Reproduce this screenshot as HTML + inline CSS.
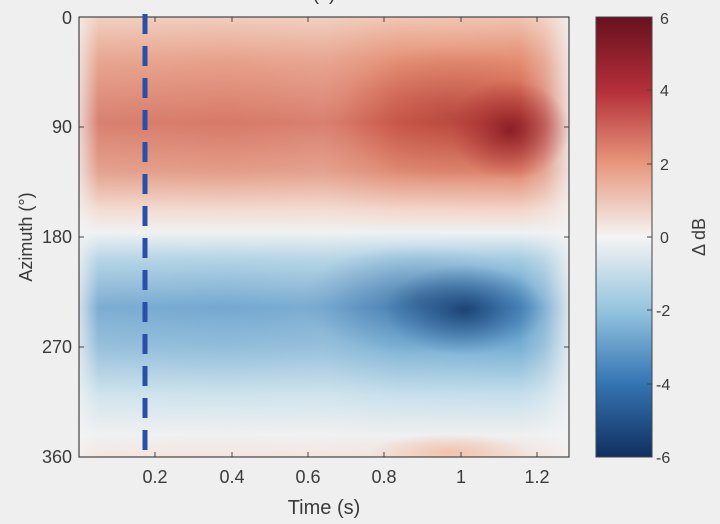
<!DOCTYPE html>
<html><head><meta charset="utf-8"><style>
body{margin:0;background:#efefef;}
svg{display:block;font-family:"Liberation Sans",sans-serif;}
</style></head><body>
<svg width="720" height="524" viewBox="0 0 720 524">
<defs>
<linearGradient id="v" x1="0" y1="0" x2="0" y2="1">
<stop offset="0" stop-color="#f0c4b0"/>
<stop offset="0.1" stop-color="#e48c70"/>
<stop offset="0.24" stop-color="#d05a45"/>
<stop offset="0.35" stop-color="#df866c"/>
<stop offset="0.44" stop-color="#f3d6ca"/>
<stop offset="0.49" stop-color="#eef1f3"/>
<stop offset="0.55" stop-color="#a4cce2"/>
<stop offset="0.66" stop-color="#5595c7"/>
<stop offset="0.75" stop-color="#78b0d4"/>
<stop offset="0.86" stop-color="#c6dfeb"/>
<stop offset="0.95" stop-color="#eef0f1"/>
<stop offset="1" stop-color="#f3e2d8"/>
</linearGradient>
<linearGradient id="h" x1="0" y1="0" x2="1" y2="0">
<stop offset="0" stop-color="#f3f3f3" stop-opacity="0.8"/>
<stop offset="0.04" stop-color="#f3f3f3" stop-opacity="0.25"/>
<stop offset="0.3" stop-color="#f3f3f3" stop-opacity="0.2"/>
<stop offset="0.5" stop-color="#f3f3f3" stop-opacity="0.25"/>
<stop offset="0.65" stop-color="#f3f3f3" stop-opacity="0.05"/>
<stop offset="0.9" stop-color="#f3f3f3" stop-opacity="0"/>
<stop offset="0.95" stop-color="#f3f3f3" stop-opacity="0.3"/>
<stop offset="1" stop-color="#f3f3f3" stop-opacity="0.85"/>
</linearGradient>
<radialGradient id="r1"><stop offset="0" stop-color="#7a1220" stop-opacity="0.85"/><stop offset="1" stop-color="#a82430" stop-opacity="0"/></radialGradient>
<radialGradient id="b1"><stop offset="0" stop-color="#0f2f5e" stop-opacity="0.8"/><stop offset="1" stop-color="#1e559a" stop-opacity="0"/></radialGradient>
<radialGradient id="o1"><stop offset="0" stop-color="#f1b9a0" stop-opacity="0.8"/><stop offset="1" stop-color="#f1b9a0" stop-opacity="0"/></radialGradient>
<linearGradient id="cb" x1="0" y1="0" x2="0" y2="1">
<stop offset="0" stop-color="#68101e"/>
<stop offset="0.17" stop-color="#b5303a"/>
<stop offset="0.33" stop-color="#e7957a"/>
<stop offset="0.5" stop-color="#f4f4f4"/>
<stop offset="0.67" stop-color="#93c3de"/>
<stop offset="0.83" stop-color="#3576b4"/>
<stop offset="1" stop-color="#102f60"/>
</linearGradient>
<clipPath id="c"><rect x="79" y="17" width="490" height="440"/></clipPath>
</defs>
<g clip-path="url(#c)">
<rect x="79" y="17" width="490" height="440" fill="url(#v)"/>
<rect x="79" y="17" width="490" height="440" fill="url(#h)"/>
<ellipse cx="510" cy="130" rx="60" ry="50" fill="url(#r1)"/>
<ellipse cx="450" cy="115" rx="110" ry="70" fill="url(#r1)" opacity="0.35"/>
<ellipse cx="465" cy="310" rx="80" ry="45" fill="url(#b1)"/>
<ellipse cx="420" cy="300" rx="120" ry="55" fill="url(#b1)" opacity="0.4"/>
<ellipse cx="450" cy="452" rx="80" ry="18" fill="url(#o1)"/>
</g>
<rect x="79" y="17" width="490" height="440" fill="none" stroke="#444" stroke-width="1.2"/>
<line x1="145" y1="14" x2="145" y2="457" stroke="#2a4fa8" stroke-width="5" stroke-dasharray="20,12"/>
<g stroke="#444" stroke-width="1">
<line x1="155" y1="17" x2="155" y2="22"/><line x1="232" y1="17" x2="232" y2="22"/><line x1="308" y1="17" x2="308" y2="22"/><line x1="384" y1="17" x2="384" y2="22"/><line x1="461" y1="17" x2="461" y2="22"/><line x1="537" y1="17" x2="537" y2="22"/>
<line x1="155" y1="457" x2="155" y2="452"/><line x1="232" y1="457" x2="232" y2="452"/><line x1="308" y1="457" x2="308" y2="452"/><line x1="384" y1="457" x2="384" y2="452"/><line x1="461" y1="457" x2="461" y2="452"/><line x1="537" y1="457" x2="537" y2="452"/>
<line x1="79" y1="127" x2="84" y2="127"/><line x1="79" y1="237" x2="84" y2="237"/><line x1="79" y1="347" x2="84" y2="347"/>
<line x1="564" y1="127" x2="569" y2="127"/><line x1="564" y1="237" x2="569" y2="237"/><line x1="564" y1="347" x2="569" y2="347"/>
</g>
<g fill="#3a3a3a" font-size="18" text-anchor="end">
<text x="72" y="24">0</text><text x="72" y="133">90</text><text x="72" y="243">180</text><text x="72" y="353">270</text><text x="72" y="463">360</text>
</g>
<g fill="#3a3a3a" font-size="18" text-anchor="middle">
<text x="155" y="483">0.2</text><text x="232" y="483">0.4</text><text x="308" y="483">0.6</text><text x="384" y="483">0.8</text><text x="461" y="483">1</text><text x="537" y="483">1.2</text>
<text x="324" y="514" font-size="20">Time (s)</text>
<text x="324" y="0" font-size="20">(c)</text>
</g>
<text transform="translate(32,237) rotate(-90)" fill="#3a3a3a" font-size="18" text-anchor="middle">Azimuth (°)</text>
<rect x="596" y="17" width="56" height="440" fill="url(#cb)" stroke="#444" stroke-width="1"/>
<g stroke="#444"><line x1="647" y1="90" x2="652" y2="90"/><line x1="647" y1="164" x2="652" y2="164"/><line x1="647" y1="237" x2="652" y2="237"/><line x1="647" y1="310" x2="652" y2="310"/><line x1="647" y1="384" x2="652" y2="384"/></g>
<g fill="#3a3a3a" font-size="16">
<text x="660" y="24">6</text><text x="660" y="96">4</text><text x="660" y="170">2</text><text x="660" y="243">0</text><text x="656" y="316">-2</text><text x="656" y="390">-4</text><text x="656" y="463">-6</text>
</g>
<text transform="translate(705,237) rotate(-90)" fill="#3a3a3a" font-size="18" text-anchor="middle">Δ dB</text>
</svg>
</body></html>
